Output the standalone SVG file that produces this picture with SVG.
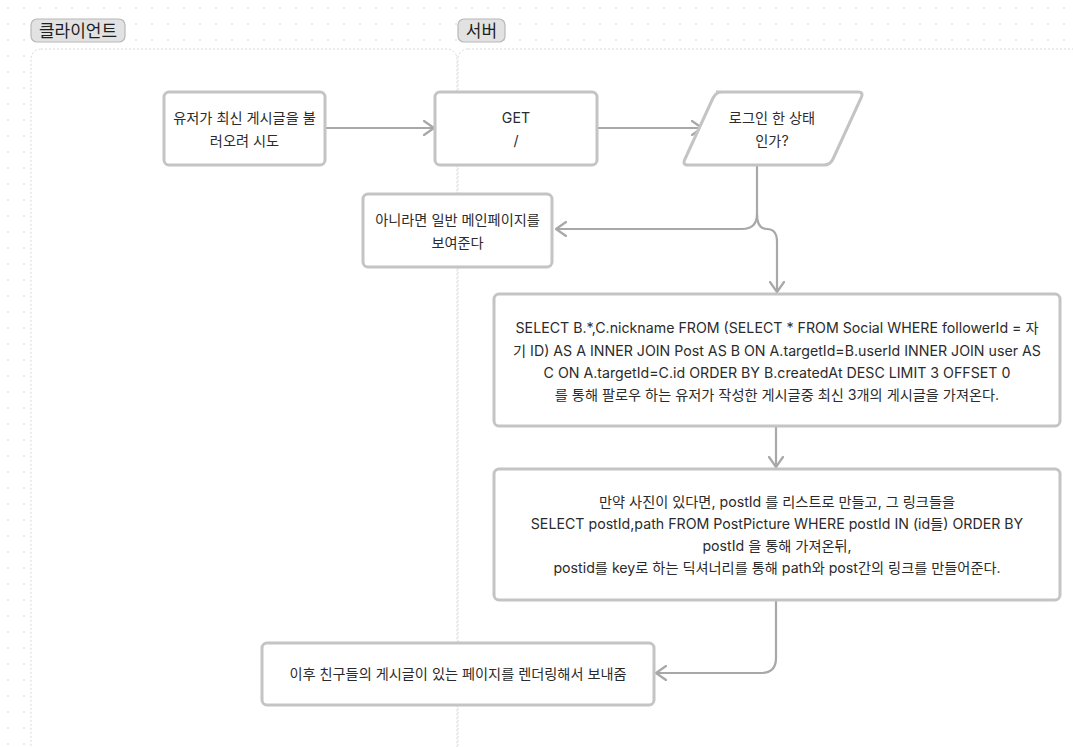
<svg xmlns="http://www.w3.org/2000/svg" width="1073" height="747" viewBox="0 0 1073 747">
<defs>
<pattern id="dots" width="16" height="16" patternUnits="userSpaceOnUse" x="0" y="0">
<circle cx="8" cy="8" r="0.8" fill="#cfcfcf"/>
</pattern>
<marker id="arr" viewBox="0 0 12 16" refX="11" refY="8" markerWidth="12" markerHeight="16" markerUnits="userSpaceOnUse" orient="auto">
<path d="M1,1 L11,8 L1,15" fill="none" stroke="#a8a8a8" stroke-width="2.2" stroke-linejoin="round" stroke-linecap="round"/>
</marker>
<style>
.lane{fill:#ffffff;stroke:#d8d8d8;stroke-width:1;stroke-dasharray:2 2}
.lbl{fill:#e2e2e2;stroke:#b8b8b8;stroke-width:1.2}
.lt{font-family:"Noto Sans CJK KR","Noto Sans",sans-serif;font-size:17px;fill:#1e1e1e}
.box{fill:#ffffff;stroke:#c4c4c4;stroke-width:3}
.t{font-family:Inter,"Noto Sans CJK KR",sans-serif;font-size:14.2px;fill:#2b2b2b;text-anchor:middle}
.c{fill:none;stroke:#a8a8a8;stroke-width:2.2;marker-end:url(#arr)}
</style>
</defs>
<rect width="1073" height="747" fill="#ffffff"/>
<rect width="1073" height="747" fill="url(#dots)"/>

<g id="lane-client">
<rect class="lane" x="31" y="49" width="426" height="720" rx="10"/>
<rect class="lbl" x="31" y="19" width="94" height="23" rx="6"/>
<text class="lt" x="78" y="37" text-anchor="middle">클라이언트</text>
</g>
<g id="lane-server">
<rect class="lane" x="458" y="49" width="640" height="720" rx="10"/>
<rect class="lbl" x="458" y="19" width="47" height="23" rx="6"/>
<text class="lt" x="481.5" y="37" text-anchor="middle">서버</text>
</g>

<g id="connectors">
<path class="c" d="M325,128 H434"/>
<path class="c" d="M597,128 H702"/>
<path class="c" d="M757,165 V214 Q757,229 742,229 H556"/>
<path class="c" d="M757,214 Q757,229 767,229 Q777,229 777,242 V292"/>
<path class="c" d="M776,426 V467"/>
<path class="c" d="M776,600 V658 Q776,673 761,673 H656"/>
</g>

<g id="n1">
<rect class="box" x="164" y="92" width="161" height="73" rx="5"/>
<text class="t" x="244.5" y="123">유저가 최신 게시글을 불</text>
<text class="t" x="244.5" y="146">러오려 시도</text>
</g>
<g id="n2">
<rect class="box" x="435" y="92" width="162" height="73" rx="5"/>
<text class="t" x="516" y="123">GET</text>
<text class="t" x="516" y="146">/</text>
</g>
<g id="n3">
<path class="box" d="M716,92 H858 Q864,92 861,98 L833,159 Q830,165 824,165 H688 Q682,165 685,159 L713,98 Q716,92 722,92 Z"/>
<text class="t" x="772" y="123">로그인 한 상태</text>
<text class="t" x="772" y="146">인가?</text>
</g>
<g id="n4">
<rect class="box" x="363" y="194" width="189" height="73" rx="5"/>
<text class="t" x="457.5" y="225">아니라면 일반 메인페이지를</text>
<text class="t" x="457.5" y="248">보여준다</text>
</g>
<g id="n5">
<rect class="box" x="494" y="294" width="566" height="132" rx="5"/>
<text class="t" x="777" y="333">SELECT B.*,C.nickname FROM (SELECT * FROM Social WHERE followerId = 자</text>
<text class="t" x="777" y="356">기 ID) AS A INNER JOIN Post AS B ON A.targetId=B.userId INNER JOIN user AS</text>
<text class="t" x="777" y="378">C ON A.targetId=C.id ORDER BY B.createdAt DESC LIMIT 3 OFFSET 0</text>
<text class="t" x="777" y="400">를 통해 팔로우 하는 유저가 작성한 게시글중 최신 3개의 게시글을 가져온다.</text>
</g>
<g id="n6">
<rect class="box" x="494" y="469" width="566" height="131" rx="5"/>
<text class="t" x="777" y="507">만약 사진이 있다면, postId 를 리스트로 만들고, 그 링크들을</text>
<text class="t" x="777" y="529">SELECT postId,path FROM PostPicture WHERE postId IN (id들) ORDER BY</text>
<text class="t" x="777" y="551">postId 을 통해 가져온뒤,</text>
<text class="t" x="777" y="573">postid를 key로 하는 딕셔너리를 통해 path와 post간의 링크를 만들어준다.</text>
</g>
<g id="n7">
<rect class="box" x="262" y="643" width="392" height="62" rx="5"/>
<text class="t" x="458" y="679">이후 친구들의 게시글이 있는 페이지를 렌더링해서 보내줌</text>
</g>
</svg>
